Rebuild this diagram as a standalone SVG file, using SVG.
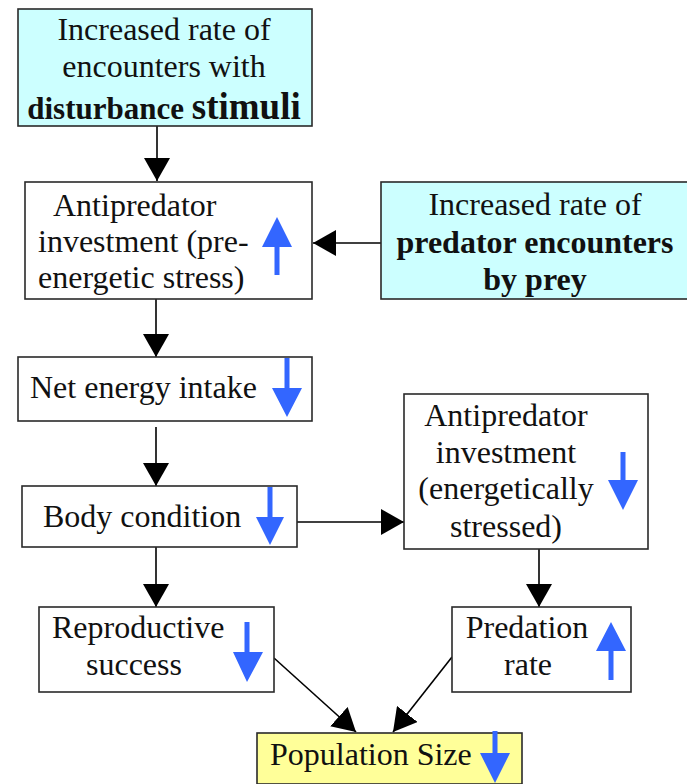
<svg xmlns="http://www.w3.org/2000/svg" width="687" height="784" viewBox="0 0 687 784">
<style>
  .box { stroke: #2a2a2a; stroke-width: 1.6; fill: #ffffff; }
  .cyan { fill: #ccffff; }
  .yellow { fill: #ffff99; }
  .t { font-family: 'Liberation Serif', 'Times New Roman', serif; font-size: 32px; fill: #111111; }
  .c { text-anchor: middle; }
  .b { font-weight: bold; }
  .con { stroke: #000000; stroke-width: 1.6; fill: none; marker-end: url(#ah); }
  .blue { fill: #3366ff; }
</style>
<defs>
  <marker id="ah" markerUnits="userSpaceOnUse" markerWidth="24" markerHeight="26" refX="23" refY="13" orient="auto">
    <path d="M0,0 L23,13 L0,26 z" fill="#000000"/>
  </marker>
</defs>
<rect width="687" height="784" fill="#ffffff"/>

<g id="connectors">
  <line class="con" x1="157" y1="126" x2="157" y2="181"/>
  <line class="con" x1="381" y1="243" x2="313" y2="243"/>
  <line class="con" x1="156" y1="299" x2="156" y2="357"/>
  <line class="con" x1="156" y1="427" x2="156" y2="486"/>
  <line class="con" x1="297" y1="522" x2="404" y2="522"/>
  <line class="con" x1="156" y1="547" x2="156" y2="607"/>
  <line class="con" x1="539" y1="549" x2="539" y2="607"/>
  <line class="con" x1="274" y1="658" x2="356" y2="732"/>
  <line class="con" x1="452" y1="657" x2="393" y2="732"/>
</g>

<g id="disturbance">
  <rect class="box cyan" x="18" y="9" width="294" height="117"/>
  <text class="t c" x="164" y="40">Increased rate of</text>
  <text class="t c" x="164" y="77">encounters with</text>
  <text class="t c b" x="164" y="119"><tspan font-size="31">disturbance </tspan><tspan font-size="37">stimuli</tspan></text>
</g>

<g id="antipredator-pre">
  <rect class="box" x="25" y="182" width="287" height="117"/>
  <text class="t" x="53" y="216">Antipredator</text>
  <text class="t" x="38" y="252">investment (pre-</text>
  <text class="t" x="38" y="288">energetic stress)</text>
  <path class="blue" d="M277,217 L292,247 L279.5,247 L279.5,275 L274.5,275 L274.5,247 L262,247 z"/>
</g>

<g id="predator-encounters">
  <rect class="box cyan" x="381" y="182" width="310" height="117"/>
  <text class="t c" x="535" y="215">Increased rate of</text>
  <text class="t c b" x="535" y="253">predator encounters</text>
  <text class="t c b" x="535" y="290">by prey</text>
</g>

<g id="net-energy">
  <rect class="box" x="18" y="357" width="294" height="64"/>
  <text class="t" x="30" y="398">Net energy intake</text>
  <path class="blue" d="M284.5,358 L289.5,358 L289.5,388 L302,388 L287,417 L272,388 L284.5,388 z"/>
</g>

<g id="body-condition">
  <rect class="box" x="22" y="486" width="275" height="61"/>
  <text class="t" x="43" y="527">Body condition</text>
  <path class="blue" d="M267.5,487 L272.5,487 L272.5,517 L284,517 L270,545 L256,517 L267.5,517 z"/>
</g>

<g id="antipredator-stressed">
  <rect class="box" x="404" y="394" width="244" height="155"/>
  <text class="t c" x="506" y="426">Antipredator</text>
  <text class="t c" x="506" y="463">investment</text>
  <text class="t c" x="506" y="499">(energetically</text>
  <text class="t c" x="506" y="537">stressed)</text>
  <path class="blue" d="M620.5,452 L625.5,452 L625.5,480 L638,480 L623,510 L608,480 L620.5,480 z"/>
</g>

<g id="reproductive-success">
  <rect class="box" x="39" y="607" width="235" height="85"/>
  <text class="t" x="52" y="638">Reproductive</text>
  <text class="t" x="86" y="675">success</text>
  <path class="blue" d="M244.5,622 L249.5,622 L249.5,652 L263,652 L247,682 L233,652 L244.5,652 z"/>
</g>

<g id="predation-rate">
  <rect class="box" x="452" y="607" width="179" height="85"/>
  <text class="t c" x="527" y="638">Predation</text>
  <text class="t c" x="528" y="675">rate</text>
  <path class="blue" d="M611,622 L626,651 L613.5,651 L613.5,680 L608.5,680 L608.5,651 L596,651 z"/>
</g>

<g id="population-size">
  <rect class="box yellow" x="257" y="733" width="265" height="51"/>
  <text class="t" x="270" y="765">Population Size</text>
  <path class="blue" d="M492.5,731 L497.5,731 L497.5,753 L510,753 L495,783 L480,753 L492.5,753 z"/>
</g>
</svg>
